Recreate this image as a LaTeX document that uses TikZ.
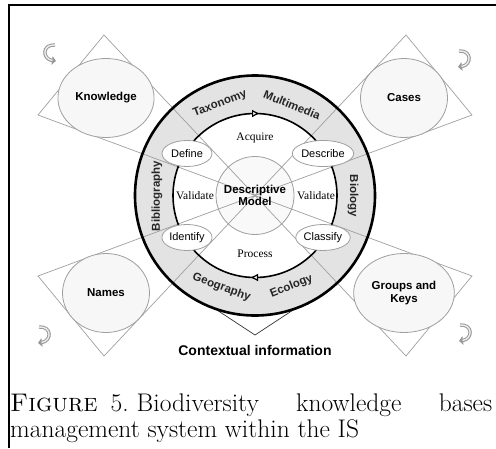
\documentclass[tikz,border=0pt]{standalone}
\usepackage{fontspec}
\newfontfamily\lsans{Liberation Sans}
\newfontfamily\lserif{Liberation Serif}
\usepackage{tikz}
\usetikzlibrary{positioning, shapes.geometric, arrows.meta}

\begin{document}
\begin{tikzpicture}[x=1pt, y=-1pt]
\tikzset{
font=\lsans\bfseries\fontsize{11.5}{13}\selectfont, % bold sans for most labels
field/.style={ellipse, draw=gray!75, fill=gray!6, line width=0.8pt, minimum width=87pt, minimum height=79pt, align=center}, % the four outer knowledge fields
wedge/.style={draw=gray!75, line width=0.7pt}, % triangles pointing at the model
stage/.style={ellipse, draw=gray!75, fill=white, line width=0.8pt, minimum width=50pt, minimum height=26pt, inner sep=0pt, font=\lsans\fontsize{11}{13}\selectfont}, % define, describe, ...
phase/.style={font=\lserif\fontsize{11.5}{13}\selectfont}, % acquire, validate, process
ring/.style={text=black!85}, % words in the grey ring
curl/.style={line width=3.4pt, draw=gray!80, -{Triangle[length=4pt, width=8.5pt]}, postaction={draw=gray!15, line width=1.4pt, -, shorten >=3.5pt}}, % small turning arrows
}
\useasboundingbox (0,0) rectangle (496,448);

% frame of the page
\draw[line width=1.6pt] (9,448) -- (9,5) -- (496,5);

\coordinate (mid) at (255,195.5);
\coordinate (kt) at (104,35);
\coordinate (kl) at (38,115);
\coordinate (ct) at (406,35);
\coordinate (cr) at (472,115);
\coordinate (nl) at (38,276);
\coordinate (nb) at (104,356);
\coordinate (gr) at (472,276);
\coordinate (gb) at (406,356);
\coordinate (vl) at (191,293);
\coordinate (vb) at (255,335);
\coordinate (vr) at (319,293);

% contextual wedge, under the ring
\draw[wedge, draw=black!80] (vl) -- (vb) -- (vr);

% grey ring and inner disks
\fill[gray!22] (mid) circle[radius=120pt];
\fill[white] (mid) circle[radius=82pt];
\fill[gray!5] (mid) circle[radius=39pt];

% the four wedges
\draw[wedge] (kl) -- (kt) -- (mid) -- cycle;
\draw[wedge] (cr) -- (ct) -- (mid) -- cycle;
\draw[wedge] (nl) -- (nb) -- (mid) -- cycle;
\draw[wedge] (gr) -- (gb) -- (mid) -- cycle;

\draw[line width=2.6pt] (mid) circle[radius=120pt];
\draw[line width=1.6pt] (mid) circle[radius=82pt];
\draw[line width=1.2pt, -{Triangle[fill=white, length=7pt, width=7pt]}] (247,113.5) -- (259,113.5);
\draw[line width=1.2pt, -{Triangle[fill=white, length=7pt, width=7pt]}] (263,277.5) -- (251,277.5);

\node[circle, draw=gray!75, line width=0.8pt, minimum size=78pt, align=center, inner sep=0pt] (core) at (mid) {Descriptive\\[-1pt]Model};

\node[field] (know) at (106,98) {Knowledge};
\node[field] (cases) at (404,98) {Cases};
\node[field] (names) at (106,293) {Names};
\node[field] (groups) at (404,293) {Groups and\\Keys};

\node[stage] (def) at (187,153.5) {Define};
\node[stage] (desc) at (323,153.5) {Describe};
\node[stage] (ident) at (187,237.5) {Identify};
\node[stage] (class) at (323,237.5) {Classify};

\node[phase, above of=core, node distance=58pt] (acq) {Acquire};
\node[phase, below of=core, node distance=58pt] (proc) {Process};
\node[phase, left of=core, node distance=60pt] (valL) {Validate};
\node[phase, right of=core, node distance=61pt] (valR) {Validate};

\node[ring, rotate=21] (tax) at (220,104) {Taxonomy};
\node[ring, rotate=-22.4] (mm) at (292,105) {Multimedia};
\node[ring, rotate=-20] (geo) at (221.5,287.5) {Geography};
\node[ring, rotate=22] (eco) at (291.5,286.5) {Ecology};
\node[ring, rotate=90] (bib) at (157,196) {Bibliography};
\node[ring, rotate=-90] (bio) at (353,196) {Biology};

\node[font=\lsans\bfseries\fontsize{14}{16}\selectfont, below of=core, node distance=155pt] (ctx) {Contextual information};

% turning arrows in the corners
\begin{scope}[shift={(49,54)}]
\draw[curl] (6,-9) .. controls (-7,-10) and (-7,5) .. (7,7);
\end{scope}
\begin{scope}[shift={(465,60)}, xscale=-1]
\draw[curl] (6,-9) .. controls (-7,-10) and (-7,5) .. (7,7);
\end{scope}
\begin{scope}[shift={(45,336)}, xscale=-1]
\draw[curl] (6,-9) .. controls (-7,-10) and (-7,5) .. (7,7);
\end{scope}
\begin{scope}[shift={(466,334)}, xscale=-1]
\draw[curl] (6,-9) .. controls (-7,-10) and (-7,5) .. (7,7);
\end{scope}

% caption
\node[anchor=base west, inner sep=0pt, font=\rmfamily\mdseries\fontsize{25.5}{27}\selectfont] (cap1) at (10,411) {\makebox[482pt][l]{\textsc{Figure}\hspace{13pt}5.\hspace{8pt}Biodiversity\hfill knowledge\hfill bases}};
\node[anchor=base west, inner sep=0pt, font=\rmfamily\mdseries\fontsize{25.5}{27}\selectfont] (cap2) at (10,437) {management system within the IS};
\end{tikzpicture}
\end{document}
